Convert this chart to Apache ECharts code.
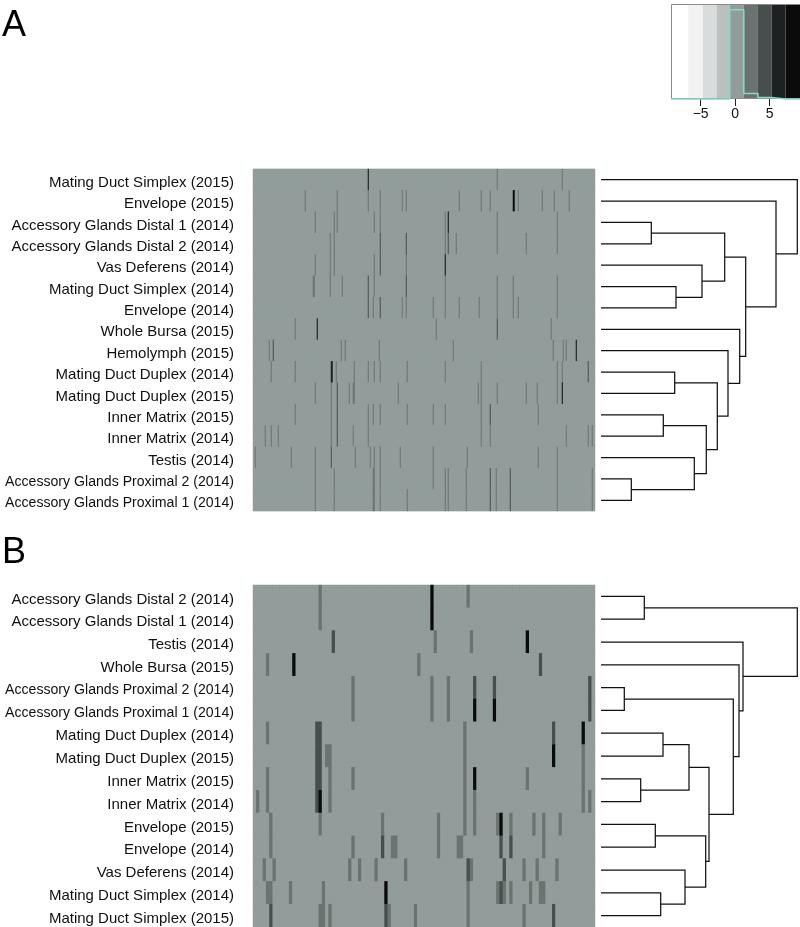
<!DOCTYPE html>
<html><head><meta charset="utf-8">
<script src="https://cdn.jsdelivr.net/npm/echarts@6/dist/echarts.min.js"></script>
<style>html,body{margin:0;padding:0;background:#fff}#c{width:800px;height:927px}</style>
</head><body><div id="c"></div>
<script>
// ---------- data ----------
const rowsA = ['Mating Duct Simplex (2015)','Envelope (2015)','Accessory Glands Distal 1 (2014)','Accessory Glands Distal 2 (2014)','Vas Deferens (2014)','Mating Duct Simplex (2014)','Envelope (2014)','Whole Bursa (2015)','Hemolymph (2015)','Mating Duct Duplex (2014)','Mating Duct Duplex (2015)','Inner Matrix (2015)','Inner Matrix (2014)','Testis (2014)','Accessory Glands Proximal 2 (2014)','Accessory Glands Proximal 1 (2014)'];
const rowsB = ['Accessory Glands Distal 2 (2014)','Accessory Glands Distal 1 (2014)','Testis (2014)','Whole Bursa (2015)','Accessory Glands Proximal 2 (2014)','Accessory Glands Proximal 1 (2014)','Mating Duct Duplex (2014)','Mating Duct Duplex (2015)','Inner Matrix (2015)','Inner Matrix (2014)','Envelope (2015)','Envelope (2014)','Vas Deferens (2014)','Mating Duct Simplex (2014)','Mating Duct Simplex (2015)'];
const nColsA = 342;
const nColsB = 104;
// non-zero cells per row: [column, value]; all other cells are 0
const stripesA = [
 [[115,8.3],[244,2.3],[309,2.3]],
 [[52,2.3],[84,2.3],[115,2.3],[127,2.3],[149,2.3],[153,2.3],[206,2.3],[228,2.3],[237,2.3],[260,8.3],[261,8.3],[265,2.3],[289,2.3],[301,2.3],[316,2.3]],
 [[62,2.3],[81,2.3],[84,2.3],[121,2.3],[127,2.3],[192,2.3],[195,8.3],[244,2.3],[304,2.3]],
 [[77,2.3],[81,2.3],[127,4.3],[153,4.3],[192,2.3],[195,4.3],[203,2.3],[244,2.3],[273,2.3],[304,2.3]],
 [[62,2.3],[77,2.3],[81,2.3],[121,2.3],[127,4.3],[153,2.3],[192,8.3]],
 [[60,2.3],[61,2.3],[77,2.3],[89,2.3],[115,4.3],[121,2.3],[153,4.3],[192,2.3],[244,2.3],[260,2.3],[304,2.3]],
 [[115,4.3],[120,2.3],[127,4.3],[149,2.3],[153,2.3],[180,2.3],[192,2.3],[206,2.3],[226,2.3],[244,2.3],[260,2.3],[265,2.3],[304,2.3]],
 [[42,2.3],[64,8.3],[183,2.3],[244,4.3],[298,2.3]],
 [[16,2.3],[20,4.3],[88,2.3],[92,2.3],[126,2.3],[200,2.3],[300,2.3],[310,2.3],[313,2.3],[323,8.3]],
 [[18,2.3],[42,2.3],[78,6.3],[79,6.3],[83,2.3],[101,2.3],[115,2.3],[121,2.3],[127,2.3],[154,2.3],[192,2.3],[228,2.3],[304,2.3],[309,2.3],[335,4.3]],
 [[62,2.3],[78,2.3],[84,4.3],[96,2.3],[100,2.3],[101,2.3],[145,2.3],[225,2.3],[228,2.3],[244,2.3],[273,2.3],[284,2.3],[304,2.3],[309,8.3]],
 [[42,2.3],[78,2.3],[84,4.3],[115,2.3],[120,2.3],[127,2.3],[154,2.3],[180,2.3],[192,2.3],[228,2.3],[237,4.3],[285,2.3]],
 [[12,2.3],[18,2.3],[25,2.3],[78,2.3],[84,4.3],[100,2.3],[115,2.3],[228,2.3],[237,2.3],[313,2.3],[335,2.3],[339,2.3]],
 [[2,2.3],[38,2.3],[62,2.3],[78,4.3],[102,2.3],[117,2.3],[121,2.3],[127,2.3],[147,2.3],[180,2.3],[214,2.3],[285,2.3],[304,2.3]],
 [[62,2.3],[81,2.3],[120,2.3],[121,2.3],[127,2.3],[180,2.3],[192,2.3],[195,2.3],[213,2.3],[237,4.3],[243,2.3],[257,4.3],[304,2.3],[339,2.3]],
 [[62,2.3],[81,2.3],[120,2.3],[121,2.3],[127,2.3],[154,2.3],[192,2.3],[195,2.3],[213,2.3],[237,4.3],[243,2.3],[257,4.3],[304,2.3],[339,2.3]]
];
const stripesB = [
 [[20,2.3],[54,8.3],[65,2.3]],
 [[20,2.3],[54,8.3]],
 [[24,4.3],[55,2.3],[66,2.3],[83,8.3]],
 [[4,2.3],[12,8.3],[50,2.3],[87,4.3]],
 [[30,2.3],[54,2.3],[59,2.3],[67,4.3],[73,4.3],[102,4.3]],
 [[30,2.3],[54,2.3],[59,2.3],[67,8.3],[73,8.3],[102,4.3]],
 [[4,2.3],[19,4.3],[20,4.3],[64,2.3],[91,4.3],[100,8.3]],
 [[19,4.3],[20,4.3],[22,2.3],[23,2.3],[64,2.3],[91,8.3],[100,2.3]],
 [[4,2.3],[19,4.3],[20,4.3],[23,2.3],[30,2.3],[64,2.3],[67,8.3],[83,2.3],[100,2.3]],
 [[1,2.3],[4,2.3],[19,4.3],[20,8.3],[23,2.3],[64,2.3],[67,2.3],[100,2.3],[102,2.3]],
 [[5,2.3],[20,2.3],[39,2.3],[56,2.3],[64,2.3],[67,2.3],[74,2.3],[75,8.3],[78,2.3],[85,2.3],[88,2.3],[93,2.3]],
 [[5,2.3],[30,2.3],[39,4.3],[42,2.3],[43,2.3],[56,2.3],[62,2.3],[63,2.3],[75,4.3],[78,4.3],[88,2.3]],
 [[3,2.3],[6,2.3],[29,2.3],[32,2.3],[37,2.3],[46,2.3],[65,4.3],[66,2.3],[76,4.3],[82,2.3],[86,2.3],[92,2.3]],
 [[4,2.3],[5,2.3],[11,2.3],[21,2.3],[40,8.3],[65,2.3],[74,2.3],[75,4.3],[76,2.3],[78,2.3],[84,2.3],[87,2.3],[88,2.3]],
 [[5,4.3],[20,2.3],[21,2.3],[23,2.3],[40,4.3],[41,2.3],[49,2.3],[65,2.3],[82,2.3],[91,4.3]]
];
// dendrograms (hclust-style merges: negative = leaf row number, positive = earlier merge)
const mergeA_left   = [-3,-6,-5,  1,-15,-14,-12,  7,-10,  9,-9,-8,   4,-2,-1];
const mergeA_right  = [-4,-7, 2,  3,-16,  5,-13,  6,-11,  8,10,11, 12,13,14];
const mergeA_height = [50.3,75,101,123.7,30.3,93.3,62.3,105.3,73.7,116.3,127,138.7,144.7,175,196.3];
const mergeB_left   = [-1,-5,-7,-9, 3,-11,-14,-13,  6, 5, 2,-4,-3, 1];
const mergeB_right  = [-2,-6,-8,-10,4,-12,-15,  7,  8, 9,10,11,12,13];
const mergeB_height = [43.3,23.3,62,39.7,88,54.3,59.7,84,104.7,108,132.3,138,142,196.3];
// colour key
const keyBreaks = [-9.3,-6.8,-4.7,-2.7,-0.8,1.25,3.3,5.3,7.3,9.4];
const keyColors = ['#ffffff','#f2f2f2','#d9dcdc','#b9c0be','#929c9a','#6b7371','#474f4e','#1d2121','#0b0b0b'];
const histDensity = [0,0,0,0,0.94,0.058,0.016,0,0];
const keyTicks = [-5,0,5];

// ---------- build ----------
const FONT = '"Liberation Sans", Arial, Helvetica, sans-serif';
const LABEL_SIZE = 15, LABEL_ROOM = 229;
const measureCtx = document.createElement('canvas').getContext('2d');
measureCtx.font = LABEL_SIZE + 'px ' + FONT;
const textW = s => measureCtx.measureText(s).width;
const maxW = Math.max(...rowsA.concat(rowsB).map(textW));
const fitSize = Math.min(LABEL_SIZE, LABEL_SIZE * LABEL_ROOM / maxW);

function fullMatrix(stripes, nCols){
  const out=[];
  stripes.forEach((row,r)=>{
    const m=new Map(row.map(s=>[s[0],s[1]]));
    for(let c=0;c<nCols;c++) out.push([c,r,m.has(c)?m.get(c):0]);
  });
  return out;
}
function dendroSegments(left,right,height){
  const nodeY=[],nodeH=[],segs=[];
  const pos=id=> id<0 ? [0,-id-0.5] : [nodeH[id-1],nodeY[id-1]];
  for(let i=0;i<left.length;i++){
    const a=pos(left[i]), b=pos(right[i]), h=height[i];
    segs.push({coords:[[a[0],a[1]],[h,a[1]],[h,b[1]],[b[0],b[1]]]});
    nodeY.push((a[1]+b[1])/2); nodeH.push(h);
  }
  return segs;
}
const histPts=[];
histDensity.forEach((d,i)=>{histPts.push([keyBreaks[i],d]);histPts.push([keyBreaks[i+1],d]);});
const cols=n=>Array.from({length:n},(_,i)=>i);
const zeroColor = keyColors[4];

const hmY = (rows)=>({type:'category',data:rows,inverse:true,axisLine:{show:false},axisTick:{show:false},
  axisLabel:{fontSize:LABEL_SIZE,fontFamily:FONT,color:'#111',margin:19,interval:0,
    formatter:v=> textW(v) > LABEL_ROOM ? '{fit|'+v+'}' : '{n|'+v+'}',
    rich:{n:{fontSize:LABEL_SIZE,fontFamily:FONT,color:'#111',padding:[6,0,0,0]},
          fit:{fontSize:fitSize,fontFamily:FONT,color:'#111',padding:[6,0,0,0]}}}});
const G = {outerBoundsMode:'none',containLabel:false};

const option = {
  animation:false,
  backgroundColor:'#fff',
  title:[
    {text:'A',left:2,top:8,padding:0,textStyle:{fontSize:36,fontWeight:'normal',fontFamily:FONT,color:'#000'}},
    {text:'B',left:2,top:535,padding:0,textStyle:{fontSize:36,fontWeight:'normal',fontFamily:FONT,color:'#000'}}
  ],
  grid:[
    Object.assign({left:253,top:169,width:342,height:342,show:true,backgroundColor:zeroColor,borderWidth:0},G),
    Object.assign({left:253,top:585,width:342,height:342,show:true,backgroundColor:zeroColor,borderWidth:0},G),
    Object.assign({left:671,top:4,width:129,height:95},G),
    Object.assign({left:601,top:169,width:196.3,height:342},G),
    Object.assign({left:601,top:585,width:196.3,height:342},G)
  ],
  xAxis:[
    {type:'category',gridIndex:0,data:cols(nColsA),show:false},
    {type:'category',gridIndex:1,data:cols(nColsB),show:false},
    {type:'value',gridIndex:2,min:keyBreaks[0],max:keyBreaks[keyBreaks.length-1],
      splitLine:{show:false},axisLine:{show:false},
      axisTick:{show:true,length:7,lineStyle:{color:'#222'},customValues:keyTicks},
      axisLabel:{fontSize:14,fontFamily:FONT,color:'#111',margin:8,customValues:keyTicks,
        formatter:v=> v<0 ? '\u2212'+(-v) : String(v)}},
    {type:'value',gridIndex:3,min:0,max:196.3,show:false},
    {type:'value',gridIndex:4,min:0,max:196.3,show:false}
  ],
  yAxis:[
    Object.assign({gridIndex:0},hmY(rowsA)),
    Object.assign({gridIndex:1},hmY(rowsB)),
    {type:'value',gridIndex:2,min:0,max:1,show:false},
    {type:'value',gridIndex:3,min:0,max:rowsA.length,inverse:true,show:false},
    {type:'value',gridIndex:4,min:0,max:rowsB.length,inverse:true,show:false}
  ],
  visualMap:{type:'piecewise',show:false,seriesIndex:[0,1],dimension:2,
    pieces:keyColors.map((c,i)=>({gte:keyBreaks[i],lt:keyBreaks[i+1],color:c}))},
  series:[
    {type:'heatmap',xAxisIndex:0,yAxisIndex:0,data:fullMatrix(stripesA,nColsA),progressive:0,silent:true},
    {type:'heatmap',xAxisIndex:1,yAxisIndex:1,data:fullMatrix(stripesB,nColsB),progressive:0,silent:true},
    {type:'custom',xAxisIndex:2,yAxisIndex:2,silent:true,
      data:keyColors.map((c,i)=>[keyBreaks[i],keyBreaks[i+1],i]),
      renderItem:(p,api)=>{const a=api.coord([api.value(0),1]),b=api.coord([api.value(1),0]);
        return {type:'rect',shape:{x:a[0],y:a[1],width:b[0]-a[0],height:b[1]-a[1]},style:{fill:keyColors[api.value(2)]}};}},
    {type:'custom',xAxisIndex:2,yAxisIndex:2,silent:true,z:5,
      data:[[keyBreaks[0],keyBreaks[keyBreaks.length-1]]],
      renderItem:(p,api)=>{const a=api.coord([api.value(0),1]),b=api.coord([api.value(1),0]);
        return {type:'rect',shape:{x:a[0]+0.5,y:a[1]+0.5,width:b[0]-a[0],height:b[1]-a[1]-1},style:{fill:'none',stroke:'#8a8a8a',lineWidth:1}};}},
    {type:'line',xAxisIndex:2,yAxisIndex:2,data:histPts,symbol:'none',clip:false,silent:true,z:6,
      lineStyle:{color:'#86d8c8',width:1.6}},
    {type:'lines',coordinateSystem:'cartesian2d',xAxisIndex:3,yAxisIndex:3,polyline:true,silent:true,
      data:dendroSegments(mergeA_left,mergeA_right,mergeA_height),lineStyle:{color:'#111',width:1.25,opacity:1}},
    {type:'lines',coordinateSystem:'cartesian2d',xAxisIndex:4,yAxisIndex:4,polyline:true,silent:true,
      data:dendroSegments(mergeB_left,mergeB_right,mergeB_height),lineStyle:{color:'#111',width:1.25,opacity:1}}
  ]
};
const chart = echarts.init(document.getElementById('c'),null,{renderer:'canvas'});
chart.setOption(option);
</script></body></html>
